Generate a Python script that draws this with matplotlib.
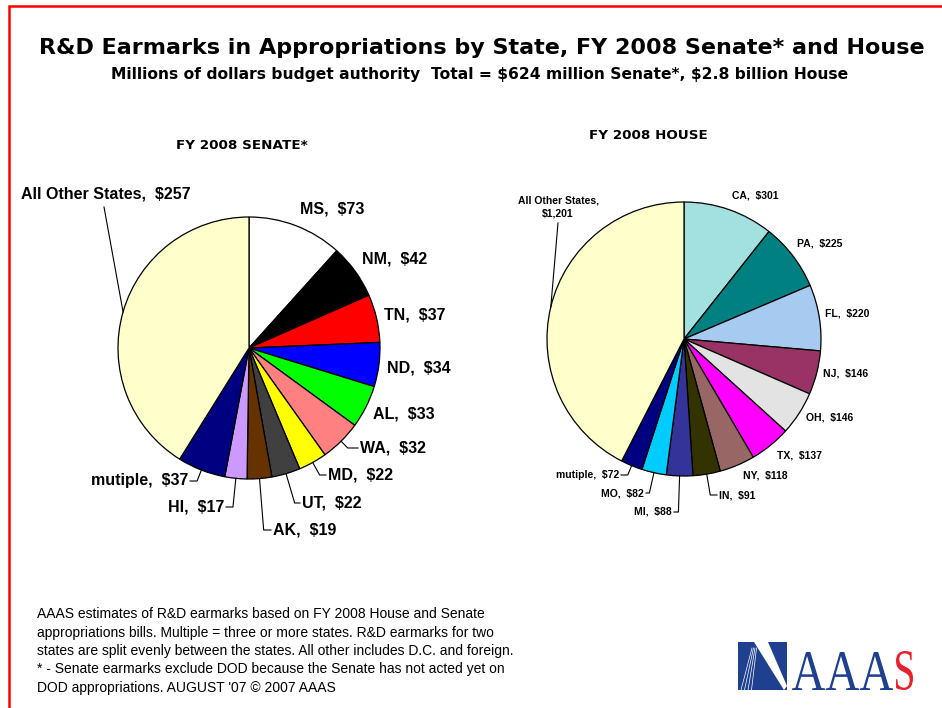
import matplotlib
matplotlib.use('Agg')
import matplotlib.pyplot as plt
import numpy as np
from matplotlib.patches import Rectangle, Polygon, PathPatch
from matplotlib.textpath import TextPath
from matplotlib.font_manager import FontProperties
from matplotlib.transforms import Affine2D

plt.rcParams['font.family'] = ['Liberation Sans', 'DejaVu Sans']

# --- data ---
senate_states = ['MS', 'NM', 'TN', 'ND', 'AL', 'WA', 'MD', 'UT', 'AK', 'HI',
                 'mutiple', 'All Other States']
senate_values = [73, 42, 37, 34, 33, 32, 22, 22, 19, 17, 37, 257]
senate_colors = ['#FFFFFF', '#000000', '#FF0000', '#0000FF', '#00FF00', '#FF8080',
                 '#FFFF00', '#404040', '#663300', '#CC99FF', '#000080', '#FFFFCC']

house_states = ['CA', 'PA', 'FL', 'NJ', 'OH', 'TX', 'NY', 'IN', 'MI', 'MO',
                'mutiple', 'All Other States']
house_values = [301, 225, 220, 146, 146, 137, 118, 91, 88, 82, 72, 1201]
house_colors = ['#A3E0E0', '#008080', '#A6CAF0', '#993366', '#E3E3E3', '#FF00FF',
                '#996666', '#333300', '#333399', '#00CCFF', '#000080', '#FFFFCC']

footnote_lines = [
    "AAAS estimates of R&D earmarks based on FY 2008 House and Senate",
    "appropriations bills. Multiple = three or more states. R&D earmarks for two",
    "states are split evenly between the states. All other includes D.C. and foreign.",
    "* - Senate earmarks exclude DOD because the Senate has not acted yet on",
    "DOD appropriations. AUGUST '07 \u00a9 2007 AAAS",
]

# --- label layout (pixel coords on the canvas): x, y, ha, leader kind ---
senate_layout = [
    (300, 209, 'left', None), (362, 259, 'left', None), (384, 315, 'left', None),
    (387, 368, 'left', None), (373, 414, 'left', None), (360, 448, 'left', 'elbow'),
    (328, 475, 'left', 'elbow'), (302, 503, 'left', 'elbow'), (273, 530, 'left', 'elbow'),
    (224, 507, 'right', 'elbow'), (188, 481, 'right', 'elbow'), (21, 194, 'left', 'straight'),
]
house_layout = [
    (732, 196, 'left', None), (797, 244, 'left', None), (825, 314, 'left', None),
    (823, 374, 'left', None), (806, 418, 'left', None), (777, 455, 'left', None),
    (743, 476, 'left', None), (719, 495, 'left', 'elbow'), (672, 512, 'right', 'elbow'),
    (644, 493, 'right', 'elbow'), (619, 475, 'right', 'elbow'), (558, 207, 'center', 'straight'),
]

fig = plt.figure(figsize=(9.42, 7.08), dpi=100)
ax = fig.add_axes([0, 0, 1, 1])


def draw_pie(ax, states, values, colors, layout, cx, cy, r, fsize, straight_end, wrap_other=False):
    ax.pie(values, colors=colors, center=(cx, cy), radius=r, startangle=-90,
           counterclock=True, wedgeprops=dict(edgecolor='black', linewidth=0.9))
    total = sum(values)
    starts = np.cumsum([0] + values[:-1])
    for name, v, c0, (tx, ty, ha, kind) in zip(states, values, starts, layout):
        th = np.deg2rad(-90 + 360 * (c0 + v / 2) / total)
        px, py = cx + r * np.cos(th), cy + r * np.sin(th)
        sep = ',\n' if (wrap_other and kind == 'straight') else ',  '
        label = f'{name}{sep}\\${v:,}'
        ax.text(tx, ty, label, ha=ha, va='center', fontsize=fsize, fontweight='bold',
                multialignment='center', linespacing=1.35)
        if kind == 'elbow':
            t = (ty - py) / np.sin(th)
            ex = px + t * np.cos(th)
            gap = -2 if ha == 'left' else 2
            ax.plot([px, ex, tx + gap], [py, ty, ty], color='black', lw=0.8)
        elif kind == 'straight':
            ax.plot([px, straight_end[0]], [py, straight_end[1]], color='black', lw=0.8)


draw_pie(ax, senate_states, senate_values, senate_colors, senate_layout,
         249, 348, 131, 11.5, (104, 207))
draw_pie(ax, house_states, house_values, house_colors, house_layout,
         684, 339, 137, 7.5, (558, 223), wrap_other=True)

# titles
ax.text(482, 54, 'R&D Earmarks in Appropriations by State, FY 2008 Senate* and House',
        ha='center', va='baseline', fontsize=16.0, fontweight='bold', family='DejaVu Sans')
ax.text(480, 79, 'Millions of dollars budget authority  Total = \\$624 million Senate*, \\$2.8 billion House',
        ha='center', va='baseline', fontsize=11.2, fontweight='bold', family='DejaVu Sans')
ax.text(242, 149, 'FY 2008 SENATE*', ha='center', va='baseline', fontsize=9.7,
        fontweight='bold', family='DejaVu Sans')
ax.text(648, 139, 'FY 2008 HOUSE', ha='center', va='baseline', fontsize=9.7,
        fontweight='bold', family='DejaVu Sans')

# footnote
for i, line in enumerate(footnote_lines):
    ax.text(37, 614 + i * 18.5, line, ha='left', va='center', fontsize=10.0)

# AAAS logo
logo_blue = '#1F3F8F'
ax.add_patch(Rectangle((738, 642), 49, 48, facecolor=logo_blue, edgecolor='none'))
ax.add_patch(Polygon([(754, 642), (768, 642), (787, 686), (784, 690)],
                     closed=True, facecolor='white', edgecolor='none'))
for k in range(4):
    ax.plot([752 + k * 1.5, 741 + k * 3.5], [648, 690], color='white', lw=0.5)


def logo_text(s, x0, x1, y_top, y_base, color):
    tp = TextPath((0, 0), s, size=50, prop=FontProperties(family='Liberation Serif'))
    ext = tp.get_extents()
    sx = (x1 - x0) / ext.width
    sy = (y_base - y_top) / ext.height
    tr = Affine2D().translate(-ext.x0, -ext.y0).scale(sx, -sy).translate(x0, y_base)
    ax.add_patch(PathPatch(tr.transform_path(tp), facecolor=color, edgecolor='none'))


logo_text('AAA', 792, 893, 652, 690, logo_blue)
logo_text('S', 896, 913, 651, 690, '#E8202A')

# red frame
ax.plot([9, 9, 942], [708, 6, 6], color='#FF0000', lw=1.8, solid_joinstyle='miter')

ax.set_xlim(0, 942)
ax.set_ylim(708, 0)
ax.set_aspect('equal')
ax.set_axis_off()

fig.savefig('out.png', dpi=100)
